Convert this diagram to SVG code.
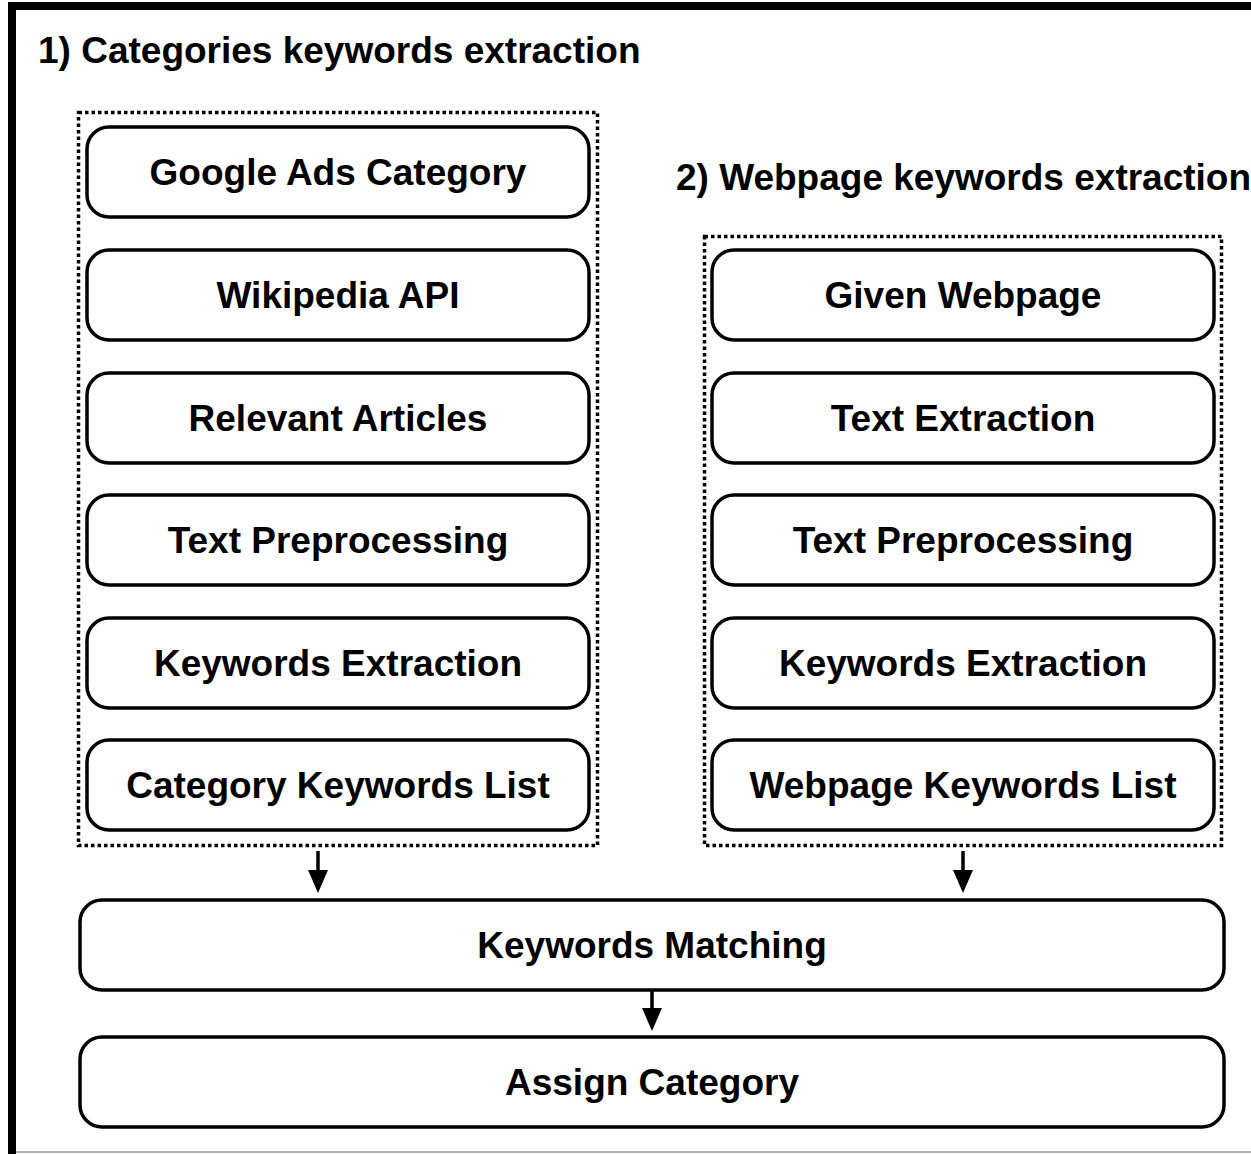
<svg xmlns="http://www.w3.org/2000/svg" width="1251" height="1154" viewBox="0 0 1251 1154">
<style>
text{font-family:"Liberation Sans",Arial,sans-serif;font-weight:bold;fill:#000;}
.t{font-size:37px;text-anchor:middle;}
.h{font-size:37px;}
.n{fill:#fff;stroke:#000;stroke-width:3.5;}
.g{fill:none;stroke:#000;stroke-width:3.5;stroke-dasharray:3.5 3;}
.c{stroke:#000;stroke-width:3.5;fill:none;}
</style>
<rect width="1251" height="1154" fill="#fff"/>
<g id="frame">
<rect x="8" y="2" width="1243" height="8" fill="#000"/>
<rect x="8" y="2" width="8" height="1152" fill="#000"/>
<rect x="16" y="1151" width="1235" height="2" fill="#b0b0b0"/>
</g>
<text class="h" x="38" y="63">1) Categories keywords extraction</text>
<text class="h" x="676" y="190">2) Webpage keywords extraction</text>
<g id="group1"><rect class="g" x="78.5" y="112.5" width="519" height="733"/></g>
<g id="group2"><rect class="g" x="704.5" y="236.5" width="517" height="609"/></g>
<g id="n1"><rect class="n" x="87" y="127" width="502" height="90" rx="22"/><text class="t" x="338" y="185">Google Ads Category</text></g>
<g id="n2"><rect class="n" x="87" y="250" width="502" height="90" rx="22"/><text class="t" x="338" y="308">Wikipedia API</text></g>
<g id="n3"><rect class="n" x="87" y="373" width="502" height="90" rx="22"/><text class="t" x="338" y="431">Relevant Articles</text></g>
<g id="n4"><rect class="n" x="87" y="495" width="502" height="90" rx="22"/><text class="t" x="338" y="553">Text Preprocessing</text></g>
<g id="n5"><rect class="n" x="87" y="618" width="502" height="90" rx="22"/><text class="t" x="338" y="676">Keywords Extraction</text></g>
<g id="n6"><rect class="n" x="87" y="740" width="502" height="90" rx="22"/><text class="t" x="338" y="798">Category Keywords List</text></g>
<g id="m1"><rect class="n" x="712" y="250" width="502" height="90" rx="22"/><text class="t" x="963" y="308">Given Webpage</text></g>
<g id="m2"><rect class="n" x="712" y="373" width="502" height="90" rx="22"/><text class="t" x="963" y="431">Text Extraction</text></g>
<g id="m3"><rect class="n" x="712" y="495" width="502" height="90" rx="22"/><text class="t" x="963" y="553">Text Preprocessing</text></g>
<g id="m4"><rect class="n" x="712" y="618" width="502" height="90" rx="22"/><text class="t" x="963" y="676">Keywords Extraction</text></g>
<g id="m5"><rect class="n" x="712" y="740" width="502" height="90" rx="22"/><text class="t" x="963" y="798">Webpage Keywords List</text></g>
<g id="match"><rect class="n" x="80" y="900" width="1144" height="90" rx="22"/><text class="t" x="652" y="958">Keywords Matching</text></g>
<g id="assign"><rect class="n" x="80" y="1037" width="1144" height="90" rx="22"/><text class="t" x="652" y="1095">Assign Category</text></g>
<g id="connectors">
<path d="M318,851 V872" class="c"/><path d="M308,870 L328,870 L318,893 Z" fill="#000"/>
<path d="M963,851 V872" class="c"/><path d="M953,870 L973,870 L963,893 Z" fill="#000"/>
<path d="M652,990 V1010" class="c"/><path d="M642,1008 L662,1008 L652,1031 Z" fill="#000"/>
</g>
</svg>
